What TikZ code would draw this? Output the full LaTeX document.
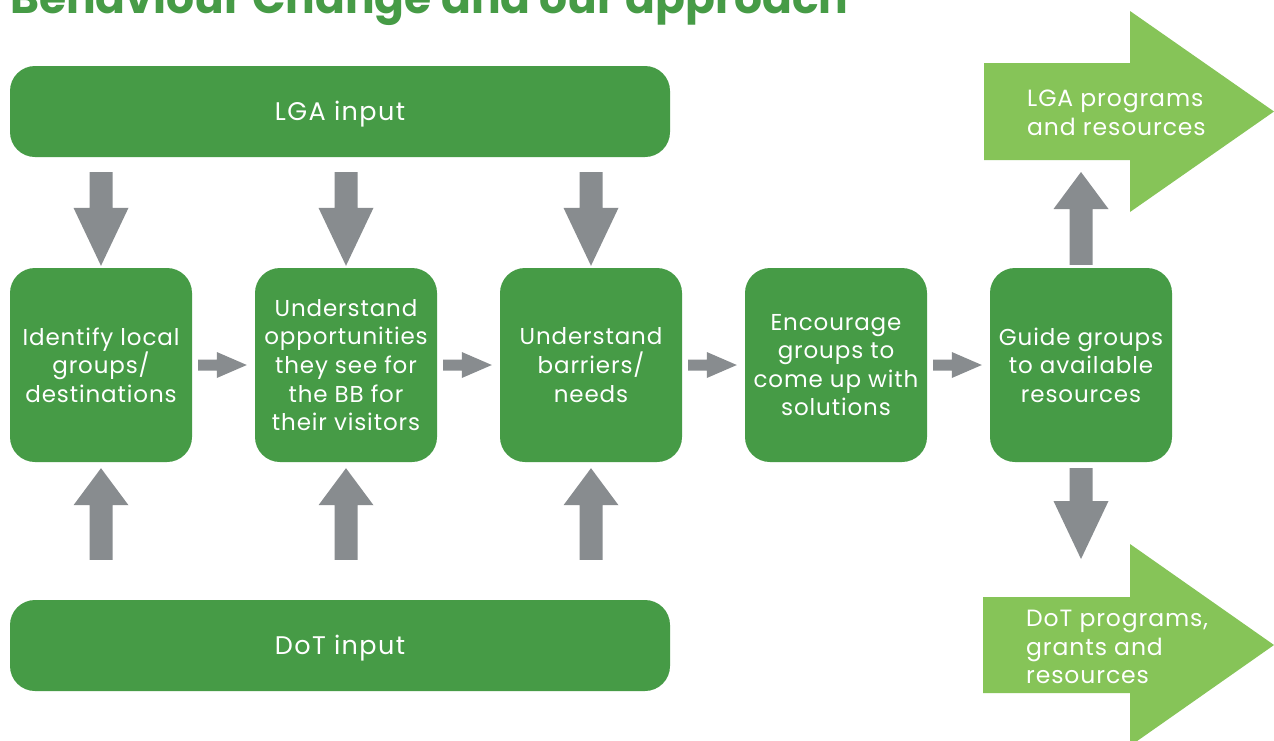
\documentclass[tikz,border=0pt]{standalone}
\usepackage{fontspec}
\setmainfont{Poppins}[LetterSpace=3.8]
\newfontfamily\titlefont{Poppins}
\newfontfamily\barfont{Poppins}[LetterSpace=5.5]
\usetikzlibrary{calc}
\definecolor{dkgreen}{RGB}{70,155,70}
\definecolor{ltgreen}{RGB}{134,196,88}
\definecolor{agray}{RGB}{136,140,143}
% #1 start, #2 end (tip), #3 shaft half width, #4 head half width, #5 head length
\newcommand\blockarrow[5]{%
  \coordinate (ba-hb) at ($(#2)!#5!(#1)$);
  \fill[agray] ($(#1)!#3!90:(#2)$) -- ($(ba-hb)!#3!90:(#2)$) -- ($(ba-hb)!#4!90:(#2)$) -- (#2)
    -- ($(ba-hb)!#4!-90:(#2)$) -- ($(ba-hb)!#3!-90:(#2)$) -- ($(#1)!#3!-90:(#2)$) -- cycle;}
\begin{document}
\begin{tikzpicture}[x=1pt,y=-1pt,
  bar/.style={fill=dkgreen, rounded corners=25pt, minimum width=660pt, minimum height=91pt,
    inner sep=0pt, text height=18pt, text depth=0pt, text=white, font=\barfont\fontsize{25.5}{29}\selectfont},
  stepbox/.style={fill=dkgreen, rounded corners=25pt, minimum width=182pt, minimum height=194pt,
    inner sep=0pt, text=white, align=center, font=\fontsize{23}{28.6}\selectfont},
  bigtext/.style={anchor=west, inner sep=0pt, text=white, align=left, font=\fontsize{23.5}{28.8}\selectfont}
]
\useasboundingbox (0,0) rectangle (1274,740);
\fill[white] (0,0) rectangle (1274,740);

\node[anchor=base west, inner sep=0pt, text=dkgreen, font=\titlefont\bfseries\fontsize{44}{50}\selectfont] (title) at (10,13) {Behaviour Change and our approach};

\node[bar] (lga) at (340,111.5) {LGA input};
\node[bar] (dot) at (340,645.5) {DoT input};

\node[stepbox] (b1) at (101,365) {Identify local\\groups/\\destinations};
\node[stepbox] (b2) at (346,365) {Understand\\opportunities\\they see for\\the BB for\\their visitors};
\node[stepbox] (b3) at (591,365) {Understand\\barriers/\\needs};
\node[stepbox] (b4) at (836,365) {Encourage\\groups to\\come up with\\solutions};
\node[stepbox] (b5) at (1081,365) {Guide groups\\to available\\resources};

% big light green arrows
\fill[ltgreen] (984,63) -- (1130,63) -- (1130,11) -- (1274,111.5) -- (1130,212) -- (1130,160) -- (984,160) -- cycle;
\coordinate (lgap) at (1081,160);
\node[bigtext] (lgaptext) at (1027,113) {LGA programs\\and resources};
\fill[ltgreen] (983,597) -- (1130,597) -- (1130,544) -- (1274,645) -- (1130,746) -- (1130,693) -- (983,693) -- cycle;
\coordinate (dotp) at (1081,597);
\node[bigtext] (dotptext) at (1026,647) {DoT programs,\\grants and\\resources};

% vertical arrows from LGA and DoT
\foreach \b in {b1,b2,b3}{
  \coordinate (\b-ds) at ($(\b.north |- lga.south)+(0,15)$);
  \coordinate (\b-de) at ($(\b.north)+(0,-2)$);
  \blockarrow{\b-ds}{\b-de}{11.5pt}{27.5pt}{58pt}
  \coordinate (\b-us) at ($(\b.south |- dot.north)+(0,-40)$);
  \coordinate (\b-ue) at ($(\b.south)+(0,6)$);
  \blockarrow{\b-us}{\b-ue}{11.5pt}{27.5pt}{37pt}
}
% horizontal arrows between steps
\foreach \a/\b in {b1/b2,b2/b3,b3/b4,b4/b5}{
  \coordinate (\a-hs) at ($(\a.east)+(6,0)$);
  \coordinate (\a-he) at ($(\b.west)+(-8,0)$);
  \blockarrow{\a-hs}{\a-he}{5.5pt}{13pt}{30pt}
}
% arrows from last step to outputs
\coordinate (b5-us) at ($(b5.north)+(0,-3)$);
\coordinate (b5-ue) at ($(lgap)+(0,12)$);
\blockarrow{b5-us}{b5-ue}{11.5pt}{27.5pt}{37pt}
\coordinate (b5-ds) at ($(b5.south)+(0,6)$);
\coordinate (b5-de) at ($(dotp)+(0,-38)$);
\blockarrow{b5-ds}{b5-de}{11.5pt}{27.5pt}{58pt}
\end{tikzpicture}
\end{document}
